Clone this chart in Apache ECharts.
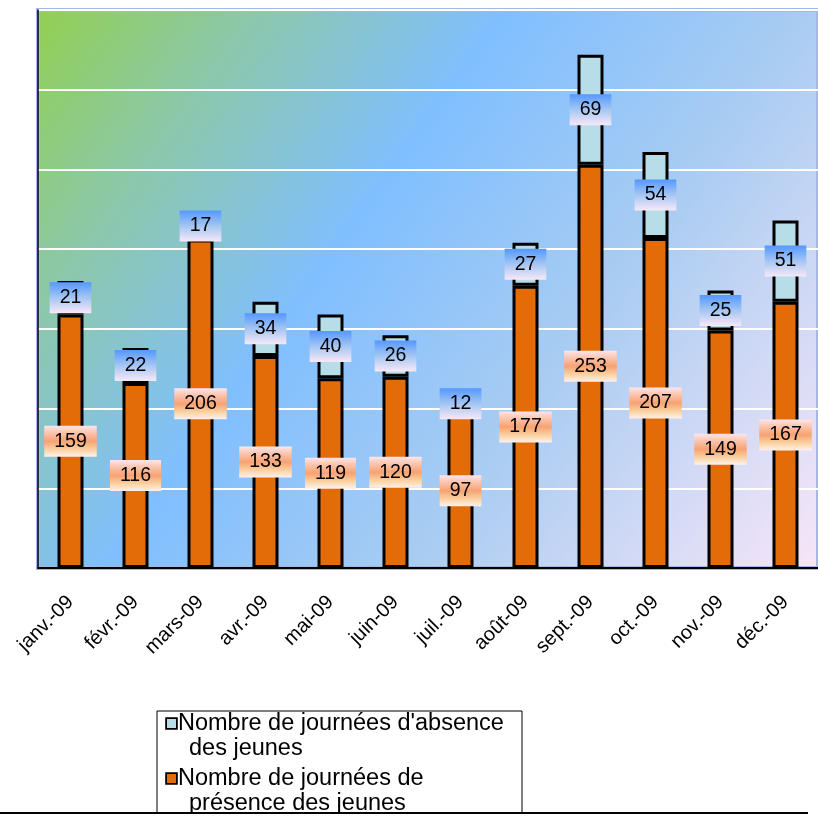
<!DOCTYPE html>
<html>
<head>
<meta charset="utf-8">
<script src="https://cdn.jsdelivr.net/npm/echarts@6/dist/echarts.min.js"></script>
<style>html,body{margin:0;padding:0;background:#fff;}#c{width:818px;height:816px;}</style>
</head>
<body>
<div id="c"></div>
<script>
const categories = ['janv.-09','févr.-09','mars-09','avr.-09','mai-09','juin-09','juil.-09','août-09','sept.-09','oct.-09','nov.-09','déc.-09'];
const presence = [159,116,206,133,119,120,97,177,253,207,149,167];
const absence = [21,22,17,34,40,26,12,27,69,54,25,51];
const absenceName = "Nombre de journées d'absence des jeunes";
const presenceName = "Nombre de journées de présence des jeunes";
const yMin = 0, yMax = 350, yStep = 50;

const chart = echarts.init(document.getElementById('c'), null, {renderer:'canvas'});
const G = echarts.graphic.LinearGradient;
const FF = 'Liberation Sans, Arial, sans-serif';
const labelBase = {show:true, position:'inside', color:'#000', fontSize:19.5, fontFamily:FF, padding:[6,10,5,10]};

const option = {
  animation:false,
  grid:{left:38, top:10, width:787, height:558, show:true,
    backgroundColor:new G(0,0,1,1,[{offset:0,color:'#92d050'},{offset:0.18,color:'#8cc8a8'},{offset:0.4,color:'#80bfff'},{offset:0.65,color:'#a8ccf2'},{offset:1,color:'#f8e6f8'}]),
    borderColor:'#a3b8e6', borderWidth:4},
  xAxis:{type:'category', data:categories,
    axisLine:{lineStyle:{color:'#000', width:2}}, axisTick:{show:false},
    axisLabel:{rotate:45, interval:0, fontSize:20, color:'#000', fontFamily:FF, margin:31}},
  yAxis:{type:'value', min:yMin, max:yMax, interval:yStep,
    axisLabel:{show:false}, axisTick:{show:false},
    axisLine:{show:true, lineStyle:{color:'#000', width:1.5}},
    splitLine:{lineStyle:{color:'#fff', width:2}}},
  legend:{orient:'vertical', left:157, top:711, padding:[0,0,0,5], itemGap:5, itemWidth:0, itemHeight:0, icon:'none', z:5,
    selectedMode:false,
    data:[absenceName, presenceName],
    formatter:function(n){
      if(n===absenceName) return "{sa|}{g|}{t|Nombre de journées d'absence}\n{ind|}{t|des jeunes}";
      return "{sp|}{g|}{t|Nombre de journées de}\n{ind|}{t|présence des jeunes}";
    },
    textStyle:{fontSize:23.5, lineHeight:25, color:'#000', fontFamily:FF,
      rich:{
        t:{fontSize:23.5, lineHeight:25, color:'#000', fontFamily:FF},
        g:{width:2},
        ind:{width:22},
        sa:{width:9, height:9, backgroundColor:'#b7dde8', borderColor:'#000', borderWidth:1.8},
        sp:{width:9, height:9, backgroundColor:'#e36c09', borderColor:'#000', borderWidth:1.8}
      }}},
  graphic:[
    {type:'rect', z:1, shape:{x:157, y:711, width:365, height:120}, style:{fill:'#fff', stroke:'#000', lineWidth:1}},
    {type:'rect', z:20, shape:{x:0, y:814, width:818, height:10}, style:{fill:'#fff'}},
    {type:'line', z:21, shape:{x1:0, y1:813, x2:808, y2:813}, style:{stroke:'#000', lineWidth:2}}
  ],
  series:[
    {name:presenceName, type:'bar', stack:'s', data:presence, barWidth:26,
      itemStyle:{color:'#e36c09', borderColor:'#000', borderWidth:3},
      label:Object.assign({}, labelBase, {backgroundColor:new G(0,0,0,1,[{offset:0,color:'#fde6ec'},{offset:0.2,color:'#fcc8b4'},{offset:0.5,color:'#f7a272'},{offset:0.78,color:'#fbd4a4'},{offset:1,color:'#fff0ee'}])})},
    {name:absenceName, type:'bar', stack:'s', data:absence, barWidth:26,
      itemStyle:{color:'#b7dde8', borderColor:'#000', borderWidth:3},
      label:Object.assign({}, labelBase, {backgroundColor:new G(0,0,0,1,[{offset:0,color:'#5598ff'},{offset:0.5,color:'#a4c6f2'},{offset:1,color:'#f8e8f8'}])})}
  ]
};
chart.setOption(option);
</script>
</body>
</html>
